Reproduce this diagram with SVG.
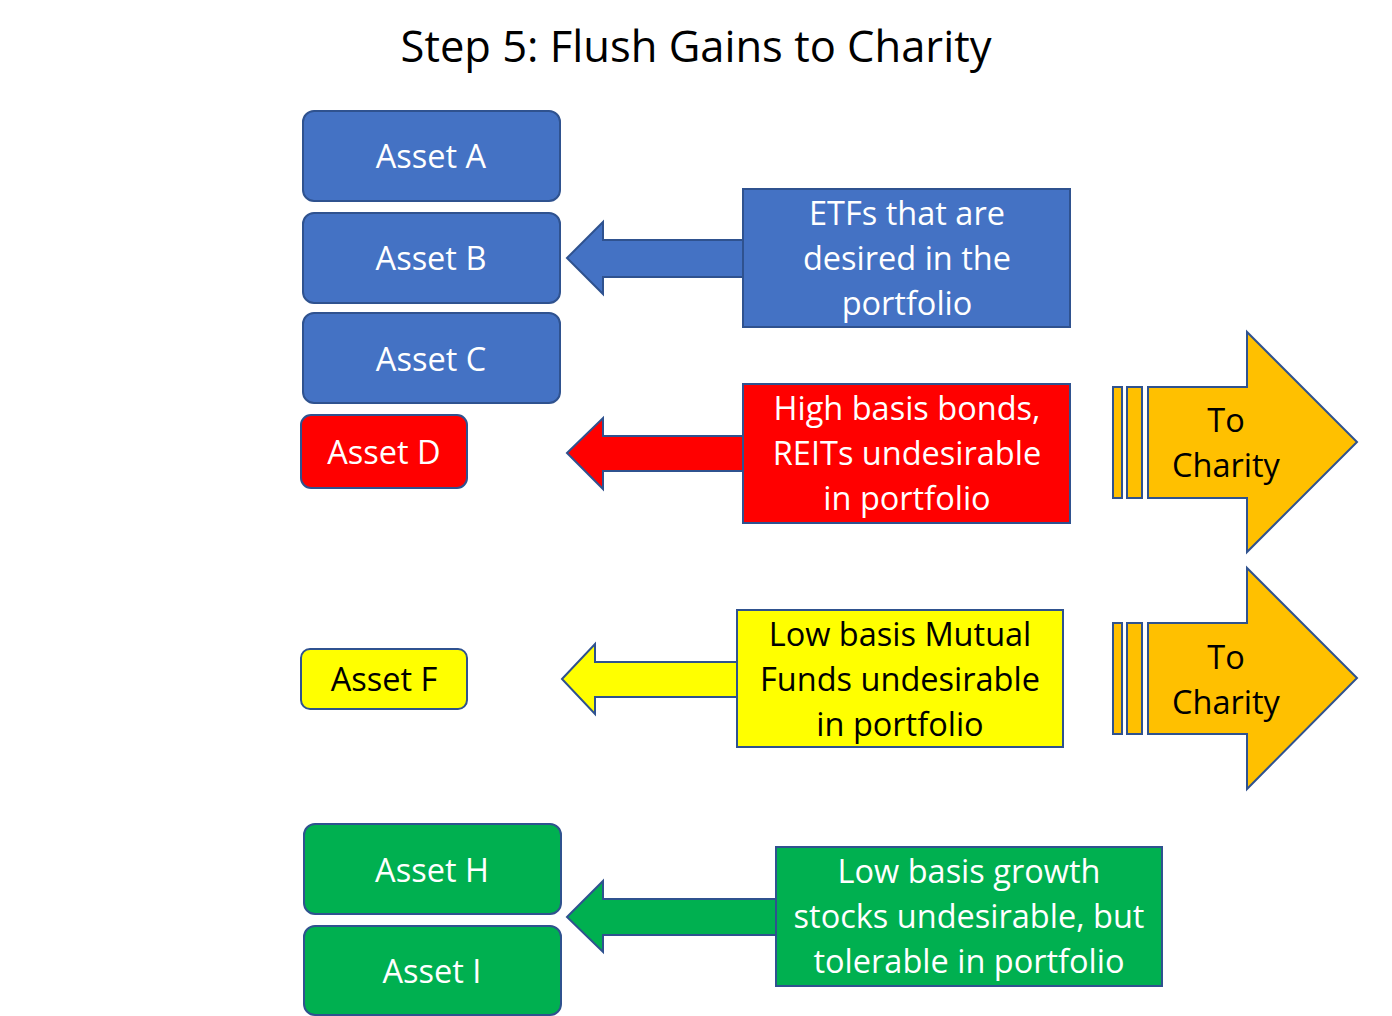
<svg xmlns="http://www.w3.org/2000/svg" width="1392" height="1016" viewBox="0 0 1392 1016">
<style>
text{font-family:"Open Sans","Liberation Sans",Arial,sans-serif;text-anchor:middle}
.t{font-size:32.5px}
.w{fill:#fff}
.k{fill:#000}
.s{stroke:#2F528F;stroke-width:2}
.blue{fill:#4472C4}
.red{fill:#FF0000}
.yel{fill:#FFFF00}
.grn{fill:#00B050}
.org{fill:#FFC000}
</style>
<rect width="1392" height="1016" fill="#fff"/>
<text x="696" y="62" style="font-size:43.5px" class="k">Step 5: Flush Gains to Charity</text>

<g id="connectors">
<path class="s blue" d="M567,258 L603,222 L603,240 L743,240 L743,277 L603,277 L603,294 Z"/>
<path class="s red" d="M567,453 L603,418 L603,436 L743,436 L743,471 L603,471 L603,489 Z"/>
<path class="s yel" d="M562,679 L595,644 L595,662 L737,662 L737,697 L595,697 L595,714 Z"/>
<path class="s grn" d="M567,917 L603,881 L603,899 L776,899 L776,935 L603,935 L603,952 Z"/>
</g>

<g id="assetA"><rect class="s blue" x="303" y="111" width="257" height="90" rx="11"/><text class="t w" x="431" y="168">Asset A</text></g>
<g id="assetB"><rect class="s blue" x="303" y="213" width="257" height="90" rx="11"/><text class="t w" x="431" y="270">Asset B</text></g>
<g id="assetC"><rect class="s blue" x="303" y="313" width="257" height="90" rx="11"/><text class="t w" x="431" y="371">Asset C</text></g>
<g id="assetD"><rect class="s red" x="301" y="415" width="166" height="73" rx="10"/><text class="t w" x="384" y="464">Asset D</text></g>
<g id="assetF"><rect class="s yel" x="301" y="649" width="166" height="60" rx="9"/><text class="t k" x="384" y="691">Asset F</text></g>
<g id="assetH"><rect class="s grn" x="304" y="824" width="257" height="90" rx="11"/><text class="t w" x="432" y="882">Asset H</text></g>
<g id="assetI"><rect class="s grn" x="304" y="926" width="257" height="89" rx="11"/><text class="t w" x="432" y="983">Asset I</text></g>

<g id="etfs"><rect class="s blue" x="743" y="189" width="327" height="138"/>
<text class="t w" x="907" y="225">ETFs that are</text>
<text class="t w" x="907" y="270">desired in the</text>
<text class="t w" x="907" y="315">portfolio</text></g>

<g id="bonds"><rect class="s red" x="743" y="384" width="327" height="139"/>
<text class="t w" x="907" y="420">High basis bonds,</text>
<text class="t w" x="907" y="465">REITs undesirable</text>
<text class="t w" x="907" y="510">in portfolio</text></g>

<g id="mutual"><rect class="s yel" x="737" y="610" width="326" height="137"/>
<text class="t k" x="900" y="646">Low basis Mutual</text>
<text class="t k" x="900" y="691">Funds undesirable</text>
<text class="t k" x="900" y="736">in portfolio</text></g>

<g id="growth"><rect class="s grn" x="776" y="847" width="386" height="139"/>
<text class="t w" x="969" y="883">Low basis growth</text>
<text class="t w" x="969" y="928">stocks undesirable, but</text>
<text class="t w" x="969" y="973">tolerable in portfolio</text></g>

<g id="charity1">
<rect class="s org" x="1113" y="387" width="9" height="111"/>
<rect class="s org" x="1127" y="387" width="15" height="111"/>
<path class="s org" d="M1148,387 L1247,387 L1247,332 L1357,442 L1247,552 L1247,498 L1148,498 Z"/>
<text class="t k" x="1226" y="432">To</text>
<text class="t k" x="1226" y="477">Charity</text>
</g>
<g id="charity2">
<rect class="s org" x="1113" y="623" width="9" height="111"/>
<rect class="s org" x="1127" y="623" width="15" height="111"/>
<path class="s org" d="M1148,623 L1247,623 L1247,568 L1357,678 L1247,789 L1247,734 L1148,734 Z"/>
<text class="t k" x="1226" y="669">To</text>
<text class="t k" x="1226" y="714">Charity</text>
</g>
</svg>
